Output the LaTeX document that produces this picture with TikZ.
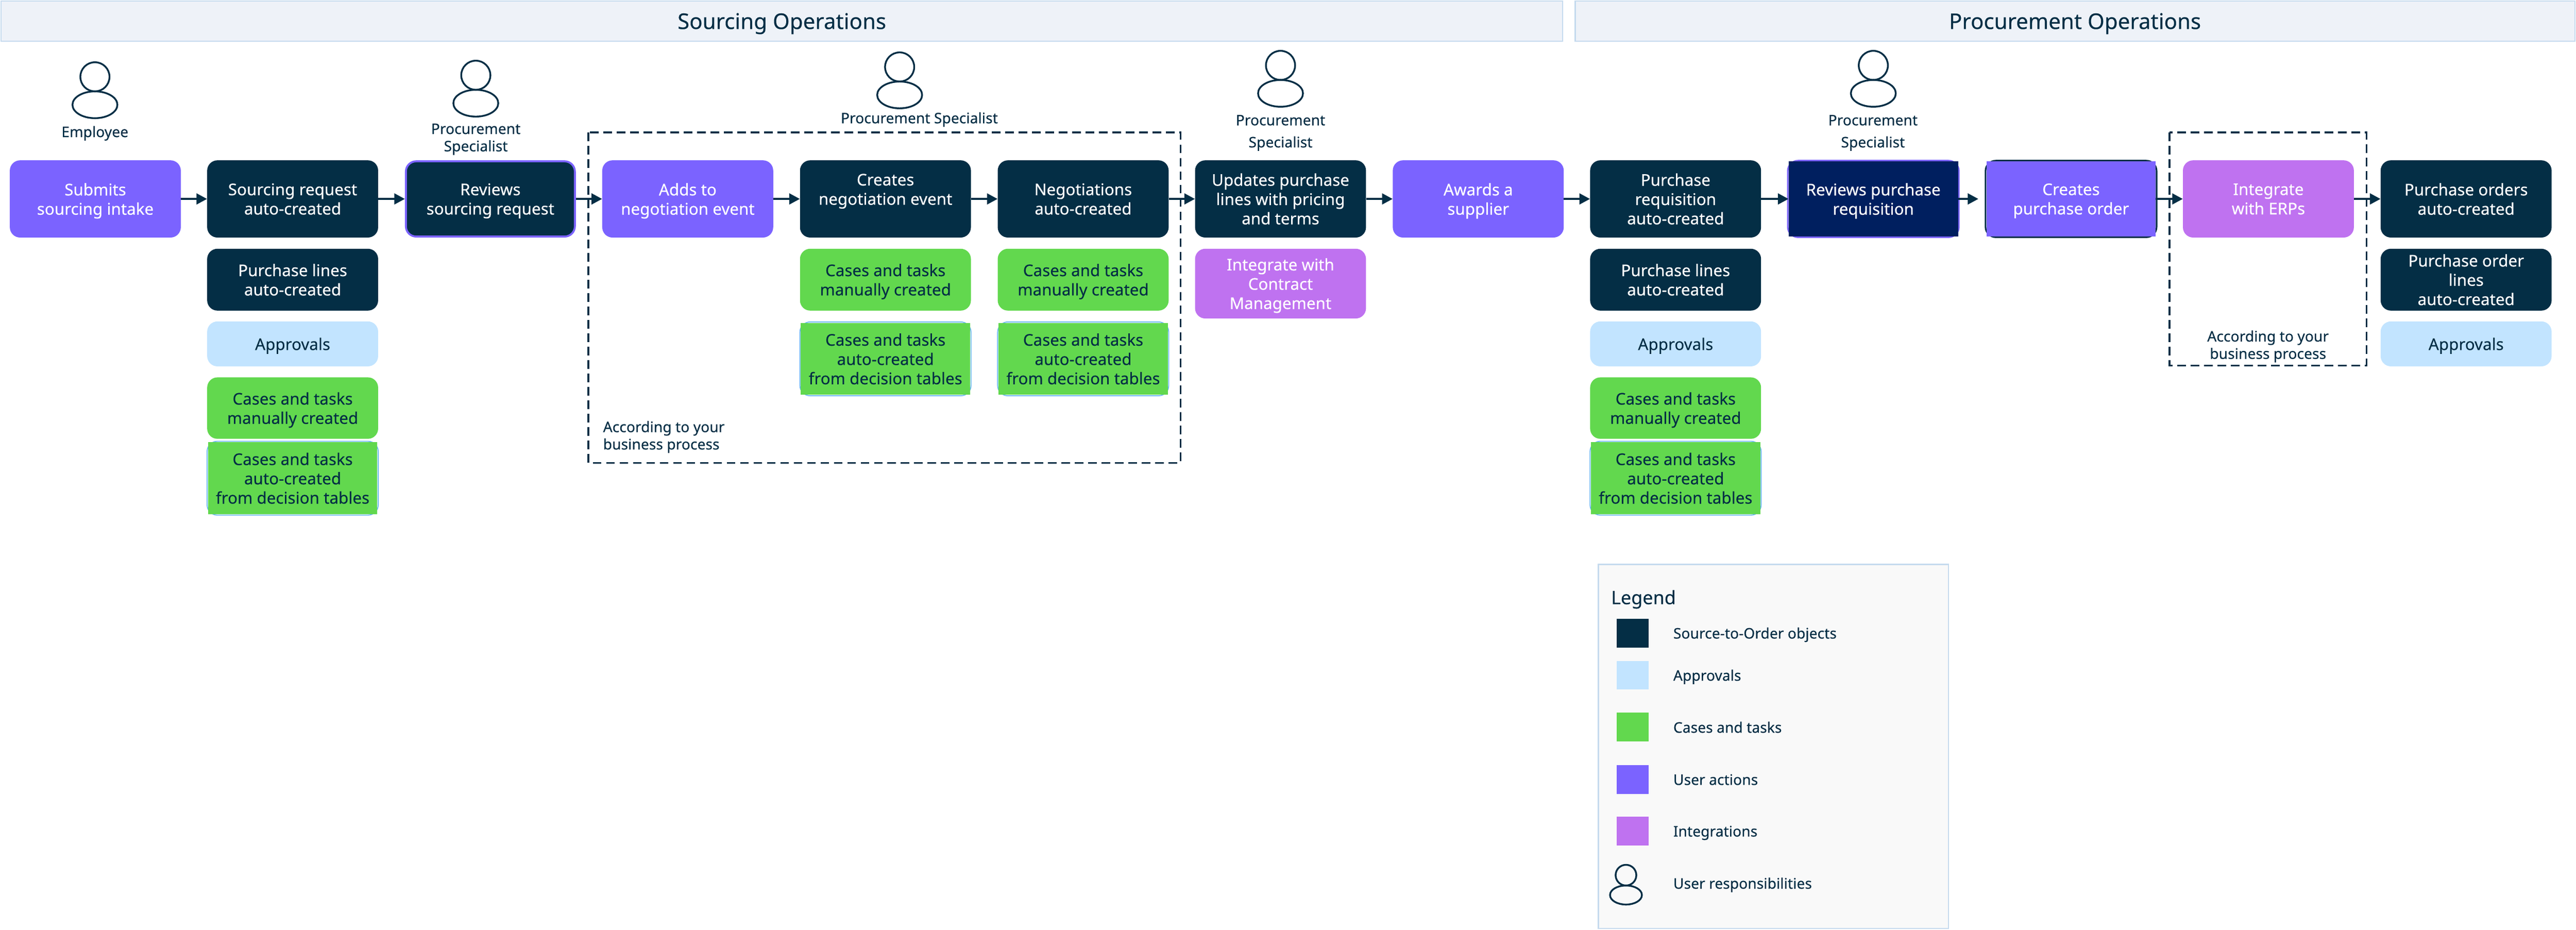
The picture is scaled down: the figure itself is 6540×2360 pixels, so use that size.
\documentclass[tikz,border=0pt]{standalone}
\usepackage{fontspec}
\setmainfont{Noto Sans}[FakeBold=0.25, BoldFont={Noto Sans}]
\usetikzlibrary{arrows.meta, backgrounds}
\definecolor{inkdark}{HTML}{042E45}
\definecolor{useract}{HTML}{7B63FF}
\definecolor{apprblue}{HTML}{C2E4FF}
\definecolor{casegreen}{HTML}{62D84E}
\definecolor{integlilac}{HTML}{BF72F0}
\definecolor{navyfill}{HTML}{001F5F}
\definecolor{headfill}{HTML}{EEF2F8}
\definecolor{headline}{HTML}{C5DAEE}
\definecolor{ringblue}{HTML}{6BB8F0}
\tikzset{
	x=1pt, y=-1pt,
	boxbase/.style={minimum width=434pt, minimum height=196pt, inner sep=0pt, align=center, rounded corners=26pt, text depth=0pt, font=\fontsize{41}{49}\selectfont},
	objbox/.style={boxbase, fill=inkdark, text=white},
	actbox/.style={boxbase, fill=useract, text=white},
	apprbox/.style={boxbase, fill=apprblue, text=inkdark},
	casebox/.style={boxbase, fill=casegreen, text=inkdark},
	intbox/.style={boxbase, fill=integlilac, text=white},
	squared/.style={sharp corners, minimum width=430pt, minimum height=#1},
	rolelabel/.style={align=center, inner sep=0pt, text=inkdark, text depth=0pt, font=\fontsize{37}{44}\selectfont},
	headbar/.style={draw=headline, fill=headfill, line width=3pt},
	headtext/.style={text=inkdark, yshift=-6pt, font=\fontsize{55}{60}\selectfont},
	flow/.style={-{Triangle[length=27pt, width=27pt]}, line width=6pt, draw=inkdark},
	scopebox/.style={draw=inkdark, line width=4.5pt, dash pattern=on 22pt off 12pt},
	swatch/.style={minimum width=81pt, minimum height=73pt, inner sep=0pt},
	person/.pic={
		\draw[inkdark, line width=4.5pt] (0,-37) ellipse (37 and 37);
		\draw[inkdark, line width=4.5pt] (0,34) ellipse (57 and 34);
	}
}
\begin{document}
\begin{tikzpicture}
	\useasboundingbox (0,0) rectangle (6540,2360);
	\draw[headbar] (3,3) rectangle node[headtext] (sourcing) {Sourcing Operations} (3967,105);
	\draw[headbar] (3999,3) rectangle node[headtext] (procure) {Procurement Operations} (6537,105);
	\draw[scopebox] (1494,336) rectangle (2997,1175);
	\draw[scopebox] (5508,336) rectangle (6008,928);
	% people above the row
	\pic at (241,232) {person};
	\pic at (1208,228) {person};
	\pic at (2284,207) {person};
	\pic at (3251,203) {person};
	\pic at (4756,203) {person};
	\node[rolelabel] (employee) at (241,334) {Employee};
	\node[rolelabel] (spec1) at (1208,349) {Procurement\\Specialist};
	\node[rolelabel] (spec2) at (2334,299) {Procurement Specialist};
	\node[rolelabel, font=\fontsize{37}{56}\selectfont] (spec3) at (3251,333) {Procurement\\Specialist};
	\node[rolelabel, font=\fontsize{37}{56}\selectfont] (spec4) at (4755,333) {Procurement\\Specialist};
	% main row
	\node[actbox] (submits) at (242,505) {Submits\\sourcing intake};
	\node[objbox] (srcreq) at (743,505) {Sourcing request\\auto-created};
	\node[objbox, draw=useract, line width=5pt, minimum width=429pt, minimum height=191pt] (revsrc) at (1245,505) {Reviews\\sourcing request};
	\node[actbox] (adds) at (1746,505) {Adds to\\negotiation event};
	\node[objbox] (creates) at (2248,505) {Creates\\negotiation event\\~};
	\node[objbox] (negot) at (2750,505) {Negotiations\\auto-created};
	\node[objbox] (updates) at (3251,505) {Updates purchase\\lines with pricing\\and terms};
	\node[actbox] (awards) at (3753,505) {Awards a\\supplier};
	\node[objbox] (purreq) at (4254,505) {Purchase\\requisition\\auto-created};
	\node[objbox, squared=190pt, fill=navyfill] (revpur) at (4756,505) {Reviews purchase\\requisition};
	\node[actbox, squared=190pt] (crepo) at (5258,505) {Creates\\purchase order};
	\node[intbox] (erps) at (5759,505) {Integrate\\with ERPs};
	\node[objbox] (pos) at (6261,505) {Purchase orders\\auto-created};
	% stacks under the row
	\node[objbox, minimum height=157pt] (lines1) at (743,710) {Purchase lines\\auto-created};
	\node[apprbox, minimum height=114pt] (appr1) at (743,873) {Approvals};
	\node[casebox, minimum height=156pt] (man1) at (743,1036) {Cases and tasks\\manually created};
	\node[casebox, squared=183pt] (auto1) at (743,1214) {Cases and tasks\\auto-created\\from decision tables};
	\node[casebox, minimum height=157pt] (man2) at (2248,710) {Cases and tasks\\manually created};
	\node[casebox, squared=183pt] (auto2) at (2248,911) {Cases and tasks\\auto-created\\from decision tables};
	\node[casebox, minimum height=157pt] (man3) at (2750,710) {Cases and tasks\\manually created};
	\node[casebox, squared=183pt] (auto3) at (2750,911) {Cases and tasks\\auto-created\\from decision tables};
	\node[intbox, minimum height=177pt] (contract) at (3251,720) {Integrate with\\Contract\\Management};
	\node[objbox, minimum height=157pt] (lines2) at (4254,710) {Purchase lines\\auto-created};
	\node[apprbox, minimum height=114pt] (appr2) at (4254,873) {Approvals};
	\node[casebox, minimum height=156pt] (man4) at (4254,1036) {Cases and tasks\\manually created};
	\node[casebox, squared=183pt] (auto4) at (4254,1214) {Cases and tasks\\auto-created\\from decision tables};
	\node[objbox, minimum height=157pt] (lines3) at (6261,710) {Purchase order\\lines\\auto-created};
	\node[apprbox, minimum height=114pt] (appr3) at (6261,873) {Approvals};
	\node[rolelabel, anchor=west, align=left] (note1) at (1531,1105) {According to your\\business process};
	\node[rolelabel] (note2) at (5758,875) {According to your\\business process};
	% outlines that show behind the square fills
	\begin{scope}[on background layer]
		\foreach \n in {auto1, auto2, auto3, auto4}
			\draw[ringblue, line width=2.5pt, rounded corners=26pt] ([xshift=-2pt, yshift=2pt]\n.north west) rectangle ([xshift=2pt, yshift=-2pt]\n.south east);
		\draw[useract, line width=4pt, rounded corners=26pt] ([xshift=-2pt, yshift=2pt]revpur.north west) rectangle ([xshift=2pt, yshift=-2pt]revpur.south east);
		\draw[inkdark, line width=4pt, rounded corners=26pt] ([xshift=-2pt, yshift=2pt]crepo.north west) rectangle ([xshift=2pt, yshift=-2pt]crepo.south east);
	\end{scope}
	\foreach \a/\b in {submits/srcreq, srcreq/revsrc, revsrc/adds, adds/creates, creates/negot, negot/updates, updates/awards, awards/purreq, purreq/revpur, crepo/erps, erps/pos}
		\draw[flow] (\a.east) -- (\b.west);
	\draw[flow, shorten >=20pt] (revpur.east) -- (crepo.west);
	% legend
	\node[draw=headline, fill=white!97.6!black, line width=3pt, minimum width=889pt, minimum height=924pt, inner sep=0pt] (legend) at (4502.5,1895) {};
	\node[rolelabel, anchor=west, font=\fontsize{47}{52}\selectfont] (legtitle) at (4090,1516) {Legend};
	\foreach \c/\yy/\t/\i in {inkdark/1607/Source-to-Order objects/1, apprblue/1714/Approvals/2, casegreen/1846/Cases and tasks/3, useract/1979/User actions/4, integlilac/2110/Integrations/5} {
		\node[swatch, fill=\c] (sw\i) at (4145.5,\yy) {};
		\node[rolelabel, anchor=west] (leg\i) at (4248,\yy) {\t};
	}
	\pic[scale=0.71] at (4128,2248) {person};
	\node[rolelabel, anchor=west] (leg6) at (4248,2242) {User responsibilities};
\end{tikzpicture}
\end{document}
